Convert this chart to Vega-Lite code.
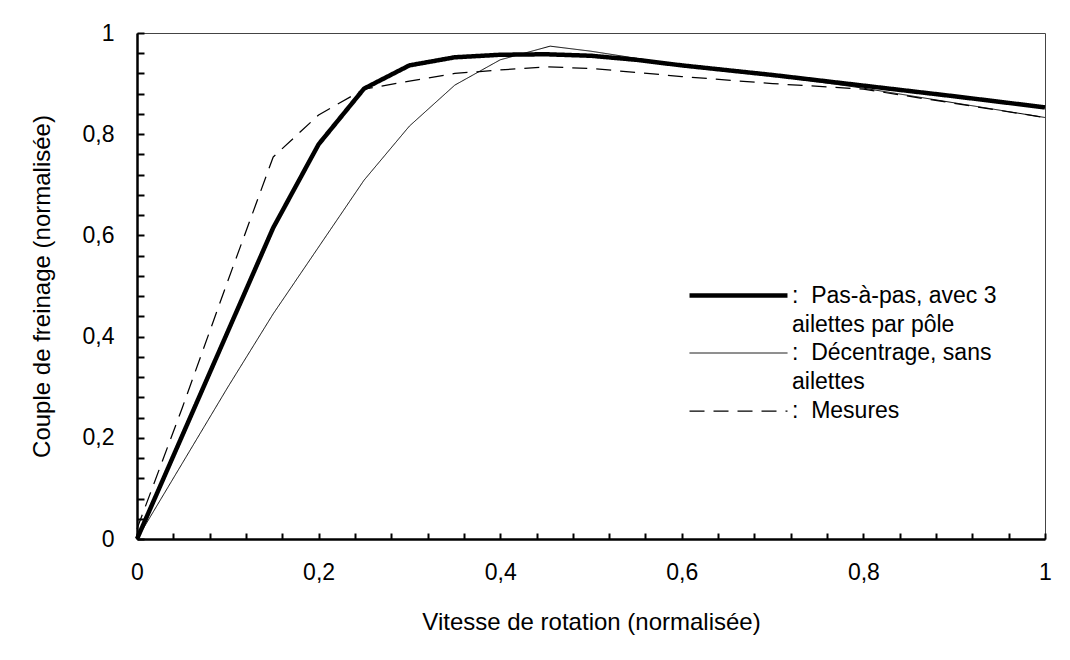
{
  "$schema": "https://vega.github.io/schema/vega-lite/v6.json",
  "width": 908,
  "height": 506,
  "autosize": "none",
  "padding": {"left": 137, "top": 33, "right": 25, "bottom": 121},
  "background": "white",
  "config": {
    "font": "Liberation Sans",
    "view": {"stroke": "#444444", "strokeWidth": 1},
    "axis": {"grid": false}
  },
  "data": {
    "values": [
      {"serie": "Pas-à-pas, avec 3 ailettes par pôle", "v": 0, "c": 0},
      {"serie": "Pas-à-pas, avec 3 ailettes par pôle", "v": 0.05, "c": 0.205},
      {"serie": "Pas-à-pas, avec 3 ailettes par pôle", "v": 0.1, "c": 0.41},
      {"serie": "Pas-à-pas, avec 3 ailettes par pôle", "v": 0.15, "c": 0.615},
      {"serie": "Pas-à-pas, avec 3 ailettes par pôle", "v": 0.2, "c": 0.78},
      {"serie": "Pas-à-pas, avec 3 ailettes par pôle", "v": 0.25, "c": 0.89},
      {"serie": "Pas-à-pas, avec 3 ailettes par pôle", "v": 0.3, "c": 0.936},
      {"serie": "Pas-à-pas, avec 3 ailettes par pôle", "v": 0.35, "c": 0.952},
      {"serie": "Pas-à-pas, avec 3 ailettes par pôle", "v": 0.4, "c": 0.957},
      {"serie": "Pas-à-pas, avec 3 ailettes par pôle", "v": 0.45, "c": 0.958},
      {"serie": "Pas-à-pas, avec 3 ailettes par pôle", "v": 0.5, "c": 0.955},
      {"serie": "Pas-à-pas, avec 3 ailettes par pôle", "v": 0.55, "c": 0.947},
      {"serie": "Pas-à-pas, avec 3 ailettes par pôle", "v": 0.6, "c": 0.936},
      {"serie": "Pas-à-pas, avec 3 ailettes par pôle", "v": 0.7, "c": 0.917},
      {"serie": "Pas-à-pas, avec 3 ailettes par pôle", "v": 0.8, "c": 0.896},
      {"serie": "Pas-à-pas, avec 3 ailettes par pôle", "v": 0.9, "c": 0.875},
      {"serie": "Pas-à-pas, avec 3 ailettes par pôle", "v": 1, "c": 0.853},
      {"serie": "Décentrage, sans ailettes", "v": 0, "c": 0},
      {"serie": "Décentrage, sans ailettes", "v": 0.05, "c": 0.15},
      {"serie": "Décentrage, sans ailettes", "v": 0.1, "c": 0.3},
      {"serie": "Décentrage, sans ailettes", "v": 0.15, "c": 0.445},
      {"serie": "Décentrage, sans ailettes", "v": 0.2, "c": 0.577},
      {"serie": "Décentrage, sans ailettes", "v": 0.25, "c": 0.709},
      {"serie": "Décentrage, sans ailettes", "v": 0.3, "c": 0.816},
      {"serie": "Décentrage, sans ailettes", "v": 0.35, "c": 0.897},
      {"serie": "Décentrage, sans ailettes", "v": 0.4, "c": 0.947},
      {"serie": "Décentrage, sans ailettes", "v": 0.455, "c": 0.974},
      {"serie": "Décentrage, sans ailettes", "v": 0.5, "c": 0.964},
      {"serie": "Décentrage, sans ailettes", "v": 0.55, "c": 0.95},
      {"serie": "Décentrage, sans ailettes", "v": 0.6, "c": 0.936},
      {"serie": "Décentrage, sans ailettes", "v": 0.7, "c": 0.916},
      {"serie": "Décentrage, sans ailettes", "v": 0.8, "c": 0.891},
      {"serie": "Décentrage, sans ailettes", "v": 0.9, "c": 0.862},
      {"serie": "Décentrage, sans ailettes", "v": 1, "c": 0.833},
      {"serie": "Mesures", "v": 0, "c": 0.02},
      {"serie": "Mesures", "v": 0.05, "c": 0.26},
      {"serie": "Mesures", "v": 0.1, "c": 0.51},
      {"serie": "Mesures", "v": 0.15, "c": 0.755},
      {"serie": "Mesures", "v": 0.2, "c": 0.838},
      {"serie": "Mesures", "v": 0.25, "c": 0.889},
      {"serie": "Mesures", "v": 0.3, "c": 0.905},
      {"serie": "Mesures", "v": 0.35, "c": 0.92},
      {"serie": "Mesures", "v": 0.4, "c": 0.927},
      {"serie": "Mesures", "v": 0.45, "c": 0.933},
      {"serie": "Mesures", "v": 0.5, "c": 0.93},
      {"serie": "Mesures", "v": 0.6, "c": 0.914},
      {"serie": "Mesures", "v": 0.7, "c": 0.9},
      {"serie": "Mesures", "v": 0.8, "c": 0.889},
      {"serie": "Mesures", "v": 0.9, "c": 0.861},
      {"serie": "Mesures", "v": 1, "c": 0.833}
    ]
  },
  "mark": {"type": "line", "color": "black", "strokeJoin": "round"},
  "encoding": {
    "x": {
      "field": "v",
      "type": "quantitative",
      "scale": {"domain": [0, 1], "nice": false, "zero": false},
      "axis": {
        "title": "Vitesse de rotation (normalisée)",
        "values": [0, 0.04, 0.08, 0.12, 0.16, 0.2, 0.24, 0.28, 0.32, 0.36, 0.4, 0.44, 0.48, 0.52, 0.56, 0.6, 0.64, 0.68, 0.72, 0.76, 0.8, 0.84, 0.88, 0.92, 0.96, 1],
        "labelExpr": "abs(datum.value * 5 - round(datum.value * 5)) < 0.001 ? replace(toString(round(datum.value * 10) / 10), '.', ',') : ''",
        "tickSize": -6,
        "tickWidth": 2,
        "tickColor": "black",
        "domainColor": "black",
        "domainWidth": 2.5,
        "labelFontSize": 23,
        "labelColor": "black",
        "labelPadding": 28,
        "labelFlush": false,
        "labelOverlap": false,
        "titleFontSize": 24,
        "titleFontWeight": "normal",
        "titleColor": "black",
        "titlePadding": 26
      }
    },
    "y": {
      "field": "c",
      "type": "quantitative",
      "scale": {"domain": [0, 1], "nice": false, "zero": false},
      "axis": {
        "title": "Couple de freinage (normalisée)",
        "values": [0, 0.04, 0.08, 0.12, 0.16, 0.2, 0.24, 0.28, 0.32, 0.36, 0.4, 0.44, 0.48, 0.52, 0.56, 0.6, 0.64, 0.68, 0.72, 0.76, 0.8, 0.84, 0.88, 0.92, 0.96, 1],
        "labelExpr": "abs(datum.value * 5 - round(datum.value * 5)) < 0.001 ? replace(toString(round(datum.value * 10) / 10), '.', ',') : ''",
        "tickSize": -7,
        "tickWidth": 2,
        "tickColor": "black",
        "domainColor": "black",
        "domainWidth": 2.5,
        "labelFontSize": 23,
        "labelColor": "black",
        "labelPadding": 30,
        "labelFlush": false,
        "labelOverlap": false,
        "titleFontSize": 24,
        "titleFontWeight": "normal",
        "titleColor": "black",
        "titlePadding": 28
      }
    },
    "strokeWidth": {
      "field": "serie",
      "type": "nominal",
      "scale": {
        "type": "point",
        "domain": ["Décentrage, sans ailettes", "Mesures", "_a", "_b", "_c", "_d", "_e", "_f", "_g", "_h", "_i", "_j", "_k", "_l", "Pas-à-pas, avec 3 ailettes par pôle"],
        "range": [1, 4.5]
      },
      "legend": {
        "title": null,
        "orient": "none",
        "legendX": 587,
        "legendY": 248,
        "padding": 0,
        "values": ["Pas-à-pas, avec 3 ailettes par pôle", "_a", "Décentrage, sans ailettes", "_b", "Mesures"],
        "symbolType": "M-4,0L4,0",
        "symbolSize": 600,
        "symbolStrokeColor": "black",
        "labelFontSize": 23,
        "labelColor": "black",
        "labelBaseline": "middle",
        "labelOffset": 39,
        "labelLimit": 0,
        "rowPadding": 3.5,
        "labelExpr": "datum.label == 'Mesures' ? ':\u00a0\u00a0Mesures' : datum.label == 'Décentrage, sans ailettes' ? ':\u00a0\u00a0Décentrage, sans' : datum.label == '_a' ? 'ailettes par pôle' : datum.label == '_b' ? 'ailettes' : ':\u00a0\u00a0Pas-à-pas, avec 3'"
      }
    },
    "strokeDash": {
      "field": "serie",
      "type": "nominal",
      "scale": {
        "domain": ["Décentrage, sans ailettes", "Mesures", "_a", "_b", "_c", "_d", "_e", "_f", "_g", "_h", "_i", "_j", "_k", "_l", "Pas-à-pas, avec 3 ailettes par pôle"],
        "range": [[1, 0], [15, 9], [0, 200], [0, 200], [1, 0], [1, 0], [1, 0], [1, 0], [1, 0], [1, 0], [1, 0], [1, 0], [1, 0], [1, 0], [1, 0]]
      },
      "legend": {
        "title": null,
        "orient": "none",
        "legendX": 587,
        "legendY": 248,
        "padding": 0,
        "values": ["Pas-à-pas, avec 3 ailettes par pôle", "_a", "Décentrage, sans ailettes", "_b", "Mesures"],
        "symbolType": "M-4,0L4,0",
        "symbolSize": 600,
        "symbolStrokeColor": "black",
        "labelFontSize": 23,
        "labelColor": "black",
        "labelBaseline": "middle",
        "labelOffset": 39,
        "labelLimit": 0,
        "rowPadding": 3.5,
        "labelExpr": "datum.label == 'Mesures' ? ':\u00a0\u00a0Mesures' : datum.label == 'Décentrage, sans ailettes' ? ':\u00a0\u00a0Décentrage, sans' : datum.label == '_a' ? 'ailettes par pôle' : datum.label == '_b' ? 'ailettes' : ':\u00a0\u00a0Pas-à-pas, avec 3'"
      }
    }
  }
}
